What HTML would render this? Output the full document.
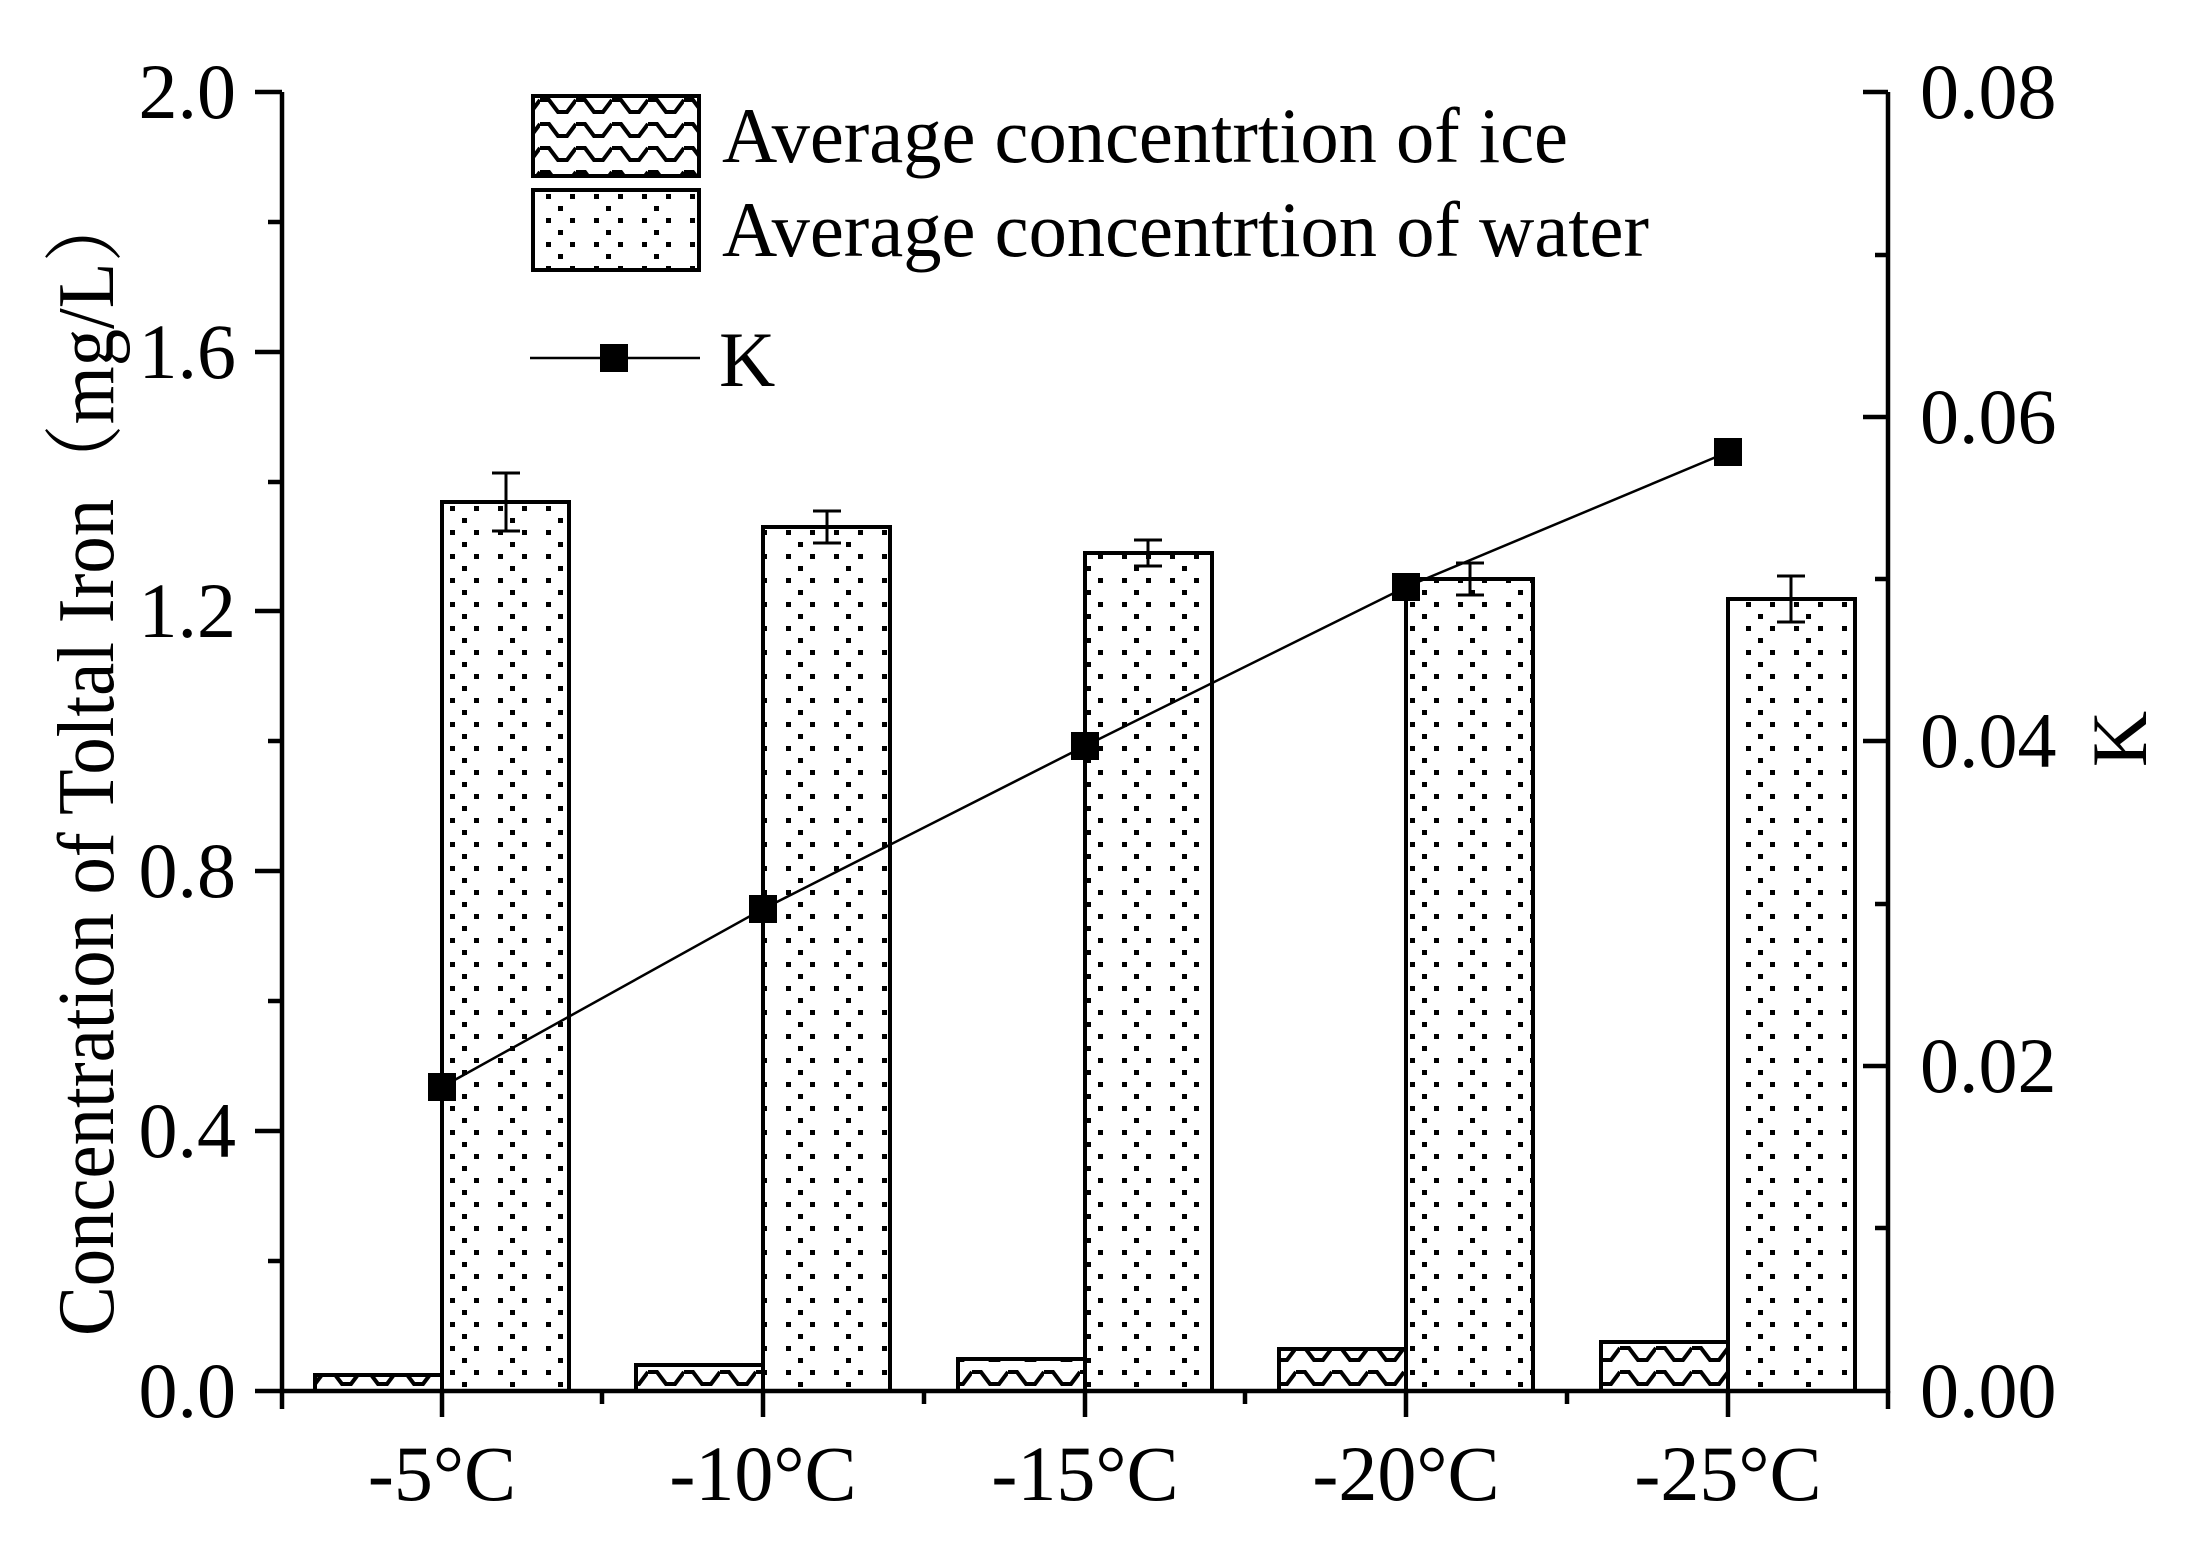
<!DOCTYPE html>
<html><head><meta charset="utf-8"><style>html,body{margin:0;padding:0;background:#fff}svg{display:block}</style></head>
<body>
<svg width="2185" height="1546" viewBox="0 0 2185 1546" xmlns="http://www.w3.org/2000/svg" font-family="'Liberation Serif','Noto Serif CJK SC',serif">
<defs>
<pattern id="dots" patternUnits="userSpaceOnUse" x="442" y="0" width="48" height="24">
<rect x="8" y="2" width="5" height="5" fill="#000"/><rect x="32" y="2" width="5" height="5" fill="#000"/>
<rect x="20" y="14" width="5" height="5" fill="#000"/>
</pattern>
<pattern id="wave" patternUnits="userSpaceOnUse" x="0" y="0" width="36" height="24">
<polyline points="0,4 9,4 18,16 27,16 36,4" fill="none" stroke="#000" stroke-width="4"/>
</pattern>
</defs>
<g stroke="#000" stroke-width="4">
<rect x="315" y="1375" width="127" height="16" fill="url(#wave)"/>
<rect x="636" y="1365" width="127" height="26" fill="url(#wave)"/>
<rect x="958" y="1359" width="127" height="32" fill="url(#wave)"/>
<rect x="1279" y="1349" width="127" height="42" fill="url(#wave)"/>
<rect x="1601" y="1342" width="127" height="49" fill="url(#wave)"/>
<rect x="442" y="502" width="127" height="889" fill="url(#dots)"/>
<rect x="763" y="527" width="127" height="864" fill="url(#dots)"/>
<rect x="1085" y="553" width="127" height="838" fill="url(#dots)"/>
<rect x="1406" y="579" width="127" height="812" fill="url(#dots)"/>
<rect x="1728" y="599" width="127" height="792" fill="url(#dots)"/>
</g>
<g stroke="#000" stroke-width="3" fill="none">
<path d="M506 473V531M492 473H520M492 531H520"/>
<path d="M827 511V543M813 511H841M813 543H841"/>
<path d="M1148 540V566M1134 540H1162M1134 566H1162"/>
<path d="M1470 563V595M1456 563H1484M1456 595H1484"/>
<path d="M1791 576V622M1777 576H1805M1777 622H1805"/>
</g>
<polyline points="442,1087 763,909 1085,746 1406,587 1728,452" fill="none" stroke="#000" stroke-width="2.5"/>
<g fill="#000">
<rect x="428" y="1073" width="28" height="28"/><rect x="749" y="895" width="28" height="28"/>
<rect x="1071" y="732" width="28" height="28"/><rect x="1392" y="573" width="28" height="28"/>
<rect x="1714" y="438" width="28" height="28"/>
</g>
<g stroke="#000" stroke-width="4.5" fill="none">
<path d="M282 92V1391H1888V92"/>
<path d="M255 92H282M255 352H282M255 611H282M255 871H282M255 1131H282M255 1391H282"/>
<path d="M268 222H282M268 482H282M268 741H282M268 1001H282M268 1261H282"/>
<path d="M1863 92H1888M1863 417H1888M1863 741H1888M1863 1066H1888"/>
<path d="M1875 255H1888M1875 579H1888M1875 904H1888M1875 1228H1888"/>
<path d="M282 1391V1409M442 1391V1417M763 1391V1417M1085 1391V1417M1406 1391V1417M1728 1391V1417"/>
<path d="M602 1391V1404M924 1391V1404M1245 1391V1404M1567 1391V1404M1888 1391V1409"/>
</g>
<g font-size="78" fill="#000">
<g text-anchor="end">
<text x="236" y="118">2.0</text><text x="236" y="378">1.6</text><text x="236" y="637">1.2</text>
<text x="236" y="897">0.8</text><text x="236" y="1157">0.4</text><text x="236" y="1417">0.0</text>
</g>
<text x="1920" y="118">0.08</text><text x="1920" y="443">0.06</text><text x="1920" y="767">0.04</text>
<text x="1920" y="1092">0.02</text><text x="1920" y="1417">0.00</text>
<g text-anchor="middle">
<text x="442" y="1500">-5°C</text><text x="763" y="1500">-10°C</text><text x="1085" y="1500">-15°C</text>
<text x="1406" y="1500">-20°C</text><text x="1728" y="1500">-25°C</text>
</g>
<text transform="translate(113,1336) rotate(-90)" font-size="80" textLength="1148" lengthAdjust="spacingAndGlyphs">Concentration of Toltal Iron（mg/L）</text>
<text transform="translate(2146,739) rotate(-90)" text-anchor="middle">K</text>
</g>
<rect x="533" y="96" width="166" height="80" fill="url(#wave)" stroke="#000" stroke-width="4"/>
<rect x="533" y="190" width="166" height="80" fill="url(#dots)" stroke="#000" stroke-width="4"/>
<path d="M530 358H700" stroke="#000" stroke-width="2.5"/>
<rect x="600" y="344" width="28" height="28" fill="#000"/>
<g font-size="78" fill="#000">
<text x="722" y="162" textLength="846" lengthAdjust="spacingAndGlyphs">Average concentrtion of ice</text>
<text x="722" y="256" textLength="927" lengthAdjust="spacingAndGlyphs">Average concentrtion of water</text>
<text x="719" y="386">K</text>
</g>
</svg>
</body></html>
